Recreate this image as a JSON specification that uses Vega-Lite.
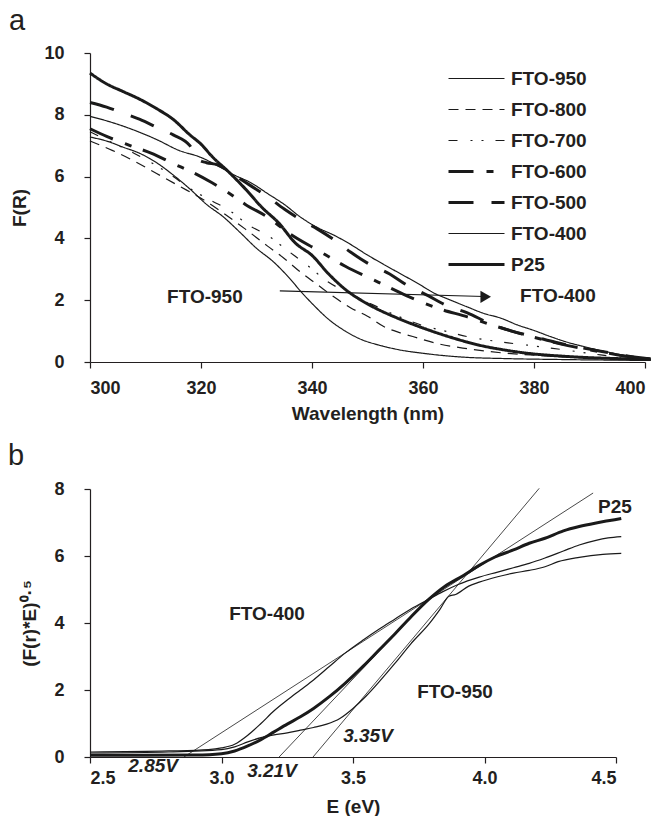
{
  "$schema": "https://vega.github.io/schema/vega-lite/v6.json",
  "background": "white",
  "padding": {"left": 8, "top": 7, "right": 0, "bottom": 0},
  "spacing": 19,
  "config": {
    "view": {"stroke": null},
    "font": "Liberation Sans",
    "axis": {
      "grid": false,
      "labelFont": "Liberation Sans", "labelFontWeight": "bold", "labelFontSize": 18, "labelColor": "#231f20",
      "titleFont": "Liberation Sans", "titleFontWeight": "bold", "titleFontSize": 19, "titleColor": "#231f20",
      "domainColor": "#231f20", "tickColor": "#231f20", "domainWidth": 1.2, "tickWidth": 1.2, "tickSize": 6
    },
    "title": {"font": "Liberation Sans", "fontWeight": "normal", "fontSize": 29, "color": "#231f20"}
  },
  "vconcat": [
    {
      "width": 555, "height": 309,
      "title": {"text": "a", "anchor": "start", "frame": "group", "dx": -81, "offset": -15, "baseline": "alphabetic"},
      "layer": [
        {
          "data": {"values": [
            {"s":"P25","w":300,"f":9.35},{"s":"P25","w":303,"f":9.0},{"s":"P25","w":306,"f":8.75},{"s":"P25","w":309,"f":8.5},{"s":"P25","w":312,"f":8.2},{"s":"P25","w":315,"f":7.85},{"s":"P25","w":318,"f":7.35},{"s":"P25","w":320,"f":7.05},{"s":"P25","w":322,"f":6.65},{"s":"P25","w":325,"f":6.15},{"s":"P25","w":328,"f":5.6},{"s":"P25","w":331,"f":5.0},{"s":"P25","w":334,"f":4.5},{"s":"P25","w":337,"f":3.85},{"s":"P25","w":340,"f":3.45},{"s":"P25","w":343,"f":2.85},{"s":"P25","w":346,"f":2.35},{"s":"P25","w":350,"f":1.88},{"s":"P25","w":355,"f":1.45},{"s":"P25","w":360,"f":1.1},{"s":"P25","w":365,"f":0.8},{"s":"P25","w":370,"f":0.55},{"s":"P25","w":375,"f":0.38},{"s":"P25","w":380,"f":0.26},{"s":"P25","w":385,"f":0.19},{"s":"P25","w":390,"f":0.14},{"s":"P25","w":395,"f":0.11},{"s":"P25","w":401,"f":0.08},
            {"s":"FTO-400","w":300,"f":7.95},{"s":"FTO-400","w":304,"f":7.75},{"s":"FTO-400","w":308,"f":7.5},{"s":"FTO-400","w":312,"f":7.2},{"s":"FTO-400","w":316,"f":6.85},{"s":"FTO-400","w":320,"f":6.62},{"s":"FTO-400","w":323,"f":6.35},{"s":"FTO-400","w":326,"f":6.05},{"s":"FTO-400","w":329,"f":5.8},{"s":"FTO-400","w":332,"f":5.45},{"s":"FTO-400","w":335,"f":5.1},{"s":"FTO-400","w":338,"f":4.68},{"s":"FTO-400","w":341,"f":4.35},{"s":"FTO-400","w":344,"f":4.1},{"s":"FTO-400","w":347,"f":3.8},{"s":"FTO-400","w":350,"f":3.46},{"s":"FTO-400","w":353,"f":3.15},{"s":"FTO-400","w":356,"f":2.85},{"s":"FTO-400","w":359,"f":2.55},{"s":"FTO-400","w":362,"f":2.23},{"s":"FTO-400","w":365,"f":2.0},{"s":"FTO-400","w":368,"f":1.78},{"s":"FTO-400","w":371,"f":1.57},{"s":"FTO-400","w":374,"f":1.42},{"s":"FTO-400","w":377,"f":1.2},{"s":"FTO-400","w":380,"f":1.02},{"s":"FTO-400","w":383,"f":0.82},{"s":"FTO-400","w":386,"f":0.64},{"s":"FTO-400","w":389,"f":0.5},{"s":"FTO-400","w":392,"f":0.37},{"s":"FTO-400","w":395,"f":0.26},{"s":"FTO-400","w":398,"f":0.15},{"s":"FTO-400","w":401,"f":0.07},
            {"s":"FTO-500","w":300,"f":8.4},{"s":"FTO-500","w":303,"f":8.25},{"s":"FTO-500","w":306,"f":8.05},{"s":"FTO-500","w":309,"f":7.85},{"s":"FTO-500","w":312,"f":7.6},{"s":"FTO-500","w":315,"f":7.35},{"s":"FTO-500","w":318,"f":7.0},{"s":"FTO-500","w":319.5,"f":6.55},{"s":"FTO-500","w":321,"f":6.45},{"s":"FTO-500","w":323,"f":6.38},{"s":"FTO-500","w":326,"f":6.05},{"s":"FTO-500","w":329,"f":5.7},{"s":"FTO-500","w":332,"f":5.35},{"s":"FTO-500","w":335,"f":4.95},{"s":"FTO-500","w":338,"f":4.6},{"s":"FTO-500","w":341,"f":4.3},{"s":"FTO-500","w":344,"f":3.95},{"s":"FTO-500","w":347,"f":3.55},{"s":"FTO-500","w":350,"f":3.2},{"s":"FTO-500","w":354,"f":2.85},{"s":"FTO-500","w":357,"f":2.5},{"s":"FTO-500","w":361,"f":2.14},{"s":"FTO-500","w":364,"f":1.85},{"s":"FTO-500","w":368,"f":1.59},{"s":"FTO-500","w":372,"f":1.25},{"s":"FTO-500","w":376,"f":1.0},{"s":"FTO-500","w":380,"f":0.82},{"s":"FTO-500","w":384,"f":0.63},{"s":"FTO-500","w":388,"f":0.48},{"s":"FTO-500","w":392,"f":0.35},{"s":"FTO-500","w":396,"f":0.22},{"s":"FTO-500","w":401,"f":0.1},
            {"s":"FTO-600","w":300,"f":7.55},{"s":"FTO-600","w":303,"f":7.3},{"s":"FTO-600","w":307,"f":7.02},{"s":"FTO-600","w":311,"f":6.76},{"s":"FTO-600","w":315,"f":6.42},{"s":"FTO-600","w":318.7,"f":6.12},{"s":"FTO-600","w":322,"f":5.8},{"s":"FTO-600","w":325,"f":5.47},{"s":"FTO-600","w":328,"f":5.1},{"s":"FTO-600","w":332,"f":4.69},{"s":"FTO-600","w":336,"f":4.15},{"s":"FTO-600","w":341,"f":3.62},{"s":"FTO-600","w":346,"f":3.1},{"s":"FTO-600","w":352,"f":2.58},{"s":"FTO-600","w":357,"f":2.15},{"s":"FTO-600","w":363,"f":1.72},{"s":"FTO-600","w":368,"f":1.46},{"s":"FTO-600","w":372,"f":1.22},{"s":"FTO-600","w":376,"f":1.0},{"s":"FTO-600","w":380,"f":0.8},{"s":"FTO-600","w":384,"f":0.62},{"s":"FTO-600","w":388,"f":0.46},{"s":"FTO-600","w":392,"f":0.33},{"s":"FTO-600","w":396,"f":0.2},{"s":"FTO-600","w":401,"f":0.1},
            {"s":"FTO-700","w":300,"f":7.45},{"s":"FTO-700","w":304,"f":7.1},{"s":"FTO-700","w":308,"f":6.75},{"s":"FTO-700","w":312,"f":6.35},{"s":"FTO-700","w":315,"f":6.0},{"s":"FTO-700","w":318,"f":5.62},{"s":"FTO-700","w":321,"f":5.3},{"s":"FTO-700","w":325,"f":4.92},{"s":"FTO-700","w":328.6,"f":4.43},{"s":"FTO-700","w":332,"f":4.1},{"s":"FTO-700","w":335.5,"f":3.62},{"s":"FTO-700","w":339,"f":3.15},{"s":"FTO-700","w":343,"f":2.58},{"s":"FTO-700","w":347,"f":2.2},{"s":"FTO-700","w":351,"f":1.85},{"s":"FTO-700","w":355,"f":1.52},{"s":"FTO-700","w":360,"f":1.18},{"s":"FTO-700","w":364,"f":1.0},{"s":"FTO-700","w":368,"f":0.82},{"s":"FTO-700","w":374,"f":0.65},{"s":"FTO-700","w":380,"f":0.52},{"s":"FTO-700","w":386,"f":0.38},{"s":"FTO-700","w":392,"f":0.23},{"s":"FTO-700","w":396,"f":0.15},{"s":"FTO-700","w":401,"f":0.08},
            {"s":"FTO-800","w":300,"f":7.15},{"s":"FTO-800","w":304,"f":6.85},{"s":"FTO-800","w":308,"f":6.5},{"s":"FTO-800","w":312,"f":6.1},{"s":"FTO-800","w":316,"f":5.7},{"s":"FTO-800","w":320,"f":5.3},{"s":"FTO-800","w":324,"f":4.82},{"s":"FTO-800","w":328,"f":4.3},{"s":"FTO-800","w":332,"f":3.75},{"s":"FTO-800","w":335,"f":3.35},{"s":"FTO-800","w":338,"f":2.9},{"s":"FTO-800","w":341,"f":2.5},{"s":"FTO-800","w":344,"f":2.1},{"s":"FTO-800","w":347,"f":1.75},{"s":"FTO-800","w":350,"f":1.48},{"s":"FTO-800","w":353,"f":1.14},{"s":"FTO-800","w":356,"f":0.94},{"s":"FTO-800","w":359,"f":0.78},{"s":"FTO-800","w":362.5,"f":0.6},{"s":"FTO-800","w":368,"f":0.43},{"s":"FTO-800","w":374,"f":0.3},{"s":"FTO-800","w":380,"f":0.22},{"s":"FTO-800","w":386,"f":0.16},{"s":"FTO-800","w":392,"f":0.11},{"s":"FTO-800","w":401,"f":0.07},
            {"s":"FTO-950","w":300,"f":7.28},{"s":"FTO-950","w":303,"f":7.15},{"s":"FTO-950","w":306,"f":6.95},{"s":"FTO-950","w":309,"f":6.75},{"s":"FTO-950","w":312,"f":6.45},{"s":"FTO-950","w":315,"f":6.05},{"s":"FTO-950","w":318,"f":5.6},{"s":"FTO-950","w":321,"f":5.1},{"s":"FTO-950","w":324,"f":4.7},{"s":"FTO-950","w":327,"f":4.2},{"s":"FTO-950","w":330,"f":3.68},{"s":"FTO-950","w":333,"f":3.25},{"s":"FTO-950","w":336,"f":2.7},{"s":"FTO-950","w":338,"f":2.28},{"s":"FTO-950","w":340.3,"f":1.84},{"s":"FTO-950","w":343,"f":1.38},{"s":"FTO-950","w":346,"f":1.0},{"s":"FTO-950","w":349,"f":0.72},{"s":"FTO-950","w":352,"f":0.55},{"s":"FTO-950","w":355,"f":0.42},{"s":"FTO-950","w":361,"f":0.26},{"s":"FTO-950","w":367,"f":0.16},{"s":"FTO-950","w":375,"f":0.11},{"s":"FTO-950","w":385,"f":0.08},{"s":"FTO-950","w":401,"f":0.05}
          ]},
          "mark": {"type": "line", "color": "#1a1a1a", "interpolate": "monotone", "strokeCap": "butt", "clip": false},
          "encoding": {
            "x": {"field": "w", "type": "quantitative", "scale": {"domain": [300, 400], "nice": false, "zero": false},
                  "axis": {"values": [300, 320, 340, 360, 380, 400], "title": "Wavelength (nm)", "labelPadding": 11, "titlePadding": 7}},
            "y": {"field": "f", "type": "quantitative", "scale": {"domain": [0, 10], "nice": false},
                  "axis": {"values": [0, 2, 4, 6, 8, 10], "title": "F(R)", "labelPadding": 20, "titlePadding": 14}},
            "strokeDash": {"field": "s", "type": "nominal",
              "scale": {"domain": ["FTO-950", "FTO-800", "FTO-700", "FTO-600", "FTO-500", "FTO-400", "P25"],
                        "range": [[1, 0], [10, 7], [9, 13, 2, 9, 2, 12], [25, 13, 7, 12], [25, 18], [1, 0], [1, 0]]},
              "legend": {"title": null, "orient": "none", "legendX": 377, "legendY": 16, "padding": 0,
                         "symbolType": "M-2.8,0L2.8,0", "symbolSize": 400, "symbolStrokeColor": "#1a1a1a",
                         "labelFont": "Liberation Sans", "labelFontWeight": "bold", "labelFontSize": 19, "labelColor": "#231f20",
                         "labelOffset": 25, "rowPadding": 11,
                         "encode": {"symbols": {"update": {"strokeWidth": {"signal": "indexof(['FTO-600','FTO-500','P25'], datum.value) >= 0 ? 3 : 1.2"}}}}}},
            "strokeWidth": {"condition": {"test": "indexof(['FTO-600','FTO-500','P25'], datum.s) >= 0", "value": 3}, "value": 1.2}
          }
        },
        {
          "data": {"values": [{"w": 334.2, "f": 2.3}, {"w": 371, "f": 2.12}]},
          "mark": {"type": "line", "color": "#1a1a1a", "strokeWidth": 1.2},
          "encoding": {"x": {"field": "w", "type": "quantitative"}, "y": {"field": "f", "type": "quantitative"}}
        },
        {
          "data": {"values": [{"w": 371.3, "f": 2.11}]},
          "mark": {"type": "point", "shape": "triangle-right", "filled": true, "color": "#1a1a1a", "size": 150, "opacity": 1},
          "encoding": {"x": {"field": "w", "type": "quantitative"}, "y": {"field": "f", "type": "quantitative"}}
        },
        {
          "data": {"values": [{"label": "FTO-950", "w": 320.7, "f": 2.1}, {"label": "FTO-400", "w": 384.3, "f": 2.14}]},
          "mark": {"type": "text", "font": "Liberation Sans", "fontWeight": "bold", "fontSize": 19, "color": "#231f20", "align": "center", "baseline": "middle"},
          "encoding": {"x": {"field": "w", "type": "quantitative"}, "y": {"field": "f", "type": "quantitative"}, "text": {"field": "label"}}
        }
      ]
    },
    {
      "width": 526, "height": 268,
      "title": {"text": "b", "anchor": "start", "frame": "group", "dx": -82, "offset": -14, "baseline": "alphabetic"},
      "layer": [
        {
          "data": {"values": [
            {"s":"P25","e":2.5,"v":0.05},{"s":"P25","e":2.7,"v":0.05},{"s":"P25","e":2.9,"v":0.06},{"s":"P25","e":3.0,"v":0.1},{"s":"P25","e":3.05,"v":0.18},{"s":"P25","e":3.1,"v":0.33},{"s":"P25","e":3.15,"v":0.52},{"s":"P25","e":3.2,"v":0.75},{"s":"P25","e":3.25,"v":0.98},{"s":"P25","e":3.3,"v":1.2},{"s":"P25","e":3.35,"v":1.45},{"s":"P25","e":3.41,"v":1.8},{"s":"P25","e":3.47,"v":2.2},{"s":"P25","e":3.54,"v":2.72},{"s":"P25","e":3.6,"v":3.2},{"s":"P25","e":3.66,"v":3.68},{"s":"P25","e":3.72,"v":4.18},{"s":"P25","e":3.79,"v":4.72},{"s":"P25","e":3.85,"v":5.1},{"s":"P25","e":3.92,"v":5.42},{"s":"P25","e":3.98,"v":5.72},{"s":"P25","e":4.04,"v":5.97},{"s":"P25","e":4.11,"v":6.18},{"s":"P25","e":4.17,"v":6.38},{"s":"P25","e":4.23,"v":6.53},{"s":"P25","e":4.3,"v":6.75},{"s":"P25","e":4.36,"v":6.88},{"s":"P25","e":4.42,"v":6.98},{"s":"P25","e":4.47,"v":7.05},{"s":"P25","e":4.52,"v":7.12},
            {"s":"FTO-400","e":2.5,"v":0.15},{"s":"FTO-400","e":2.8,"v":0.18},{"s":"FTO-400","e":2.95,"v":0.22},{"s":"FTO-400","e":3.0,"v":0.27},{"s":"FTO-400","e":3.05,"v":0.38},{"s":"FTO-400","e":3.1,"v":0.65},{"s":"FTO-400","e":3.15,"v":1.0},{"s":"FTO-400","e":3.2,"v":1.38},{"s":"FTO-400","e":3.25,"v":1.7},{"s":"FTO-400","e":3.3,"v":2.0},{"s":"FTO-400","e":3.35,"v":2.3},{"s":"FTO-400","e":3.41,"v":2.7},{"s":"FTO-400","e":3.47,"v":3.1},{"s":"FTO-400","e":3.54,"v":3.5},{"s":"FTO-400","e":3.6,"v":3.82},{"s":"FTO-400","e":3.66,"v":4.12},{"s":"FTO-400","e":3.72,"v":4.42},{"s":"FTO-400","e":3.79,"v":4.72},{"s":"FTO-400","e":3.84,"v":4.93},{"s":"FTO-400","e":3.9,"v":5.15},{"s":"FTO-400","e":3.98,"v":5.37},{"s":"FTO-400","e":4.05,"v":5.52},{"s":"FTO-400","e":4.11,"v":5.65},{"s":"FTO-400","e":4.17,"v":5.78},{"s":"FTO-400","e":4.23,"v":5.94},{"s":"FTO-400","e":4.3,"v":6.15},{"s":"FTO-400","e":4.36,"v":6.33},{"s":"FTO-400","e":4.42,"v":6.46},{"s":"FTO-400","e":4.47,"v":6.54},{"s":"FTO-400","e":4.52,"v":6.58},
            {"s":"FTO-950","e":2.5,"v":0.12},{"s":"FTO-950","e":2.8,"v":0.15},{"s":"FTO-950","e":3.0,"v":0.22},{"s":"FTO-950","e":3.05,"v":0.3},{"s":"FTO-950","e":3.1,"v":0.45},{"s":"FTO-950","e":3.15,"v":0.58},{"s":"FTO-950","e":3.2,"v":0.66},{"s":"FTO-950","e":3.25,"v":0.72},{"s":"FTO-950","e":3.3,"v":0.8},{"s":"FTO-950","e":3.35,"v":0.88},{"s":"FTO-950","e":3.4,"v":0.98},{"s":"FTO-950","e":3.45,"v":1.15},{"s":"FTO-950","e":3.5,"v":1.45},{"s":"FTO-950","e":3.55,"v":1.82},{"s":"FTO-950","e":3.6,"v":2.25},{"s":"FTO-950","e":3.66,"v":2.8},{"s":"FTO-950","e":3.72,"v":3.38},{"s":"FTO-950","e":3.79,"v":3.98},{"s":"FTO-950","e":3.83,"v":4.4},{"s":"FTO-950","e":3.865,"v":4.8},{"s":"FTO-950","e":3.89,"v":4.85},{"s":"FTO-950","e":3.94,"v":5.1},{"s":"FTO-950","e":3.98,"v":5.22},{"s":"FTO-950","e":4.05,"v":5.38},{"s":"FTO-950","e":4.11,"v":5.49},{"s":"FTO-950","e":4.17,"v":5.57},{"s":"FTO-950","e":4.23,"v":5.68},{"s":"FTO-950","e":4.28,"v":5.83},{"s":"FTO-950","e":4.36,"v":5.96},{"s":"FTO-950","e":4.45,"v":6.05},{"s":"FTO-950","e":4.52,"v":6.08}
          ]},
          "mark": {"type": "line", "color": "#1a1a1a", "interpolate": "monotone", "clip": false},
          "encoding": {
            "x": {"field": "e", "type": "quantitative", "scale": {"domain": [2.5, 4.5], "nice": false, "zero": false},
                  "axis": {"values": [2.5, 3.0, 3.5, 4.0, 4.5], "format": ".1f", "title": "E (eV)", "labelPadding": 6, "titlePadding": 10}},
            "y": {"field": "v", "type": "quantitative", "scale": {"domain": [0, 8], "nice": false},
                  "axis": {"values": [0, 2, 4, 6, 8], "title": "(F(r)*E)⁰·⁵", "labelPadding": 20, "titlePadding": 14}},
            "detail": {"field": "s", "type": "nominal"},
            "strokeWidth": {"condition": {"test": "datum.s === 'P25'", "value": 3}, "value": 1.2}
          }
        },
        {
          "data": {"values": [
            {"t": "2.85", "e": 2.857, "v": 0}, {"t": "2.85", "e": 4.413, "v": 7.88},
            {"t": "3.21", "e": 3.219, "v": 0}, {"t": "3.21", "e": 3.8, "v": 4.82},
            {"t": "3.35", "e": 3.348, "v": 0}, {"t": "3.35", "e": 4.208, "v": 8.02}
          ]},
          "mark": {"type": "line", "color": "#1a1a1a", "strokeWidth": 0.8},
          "encoding": {"x": {"field": "e", "type": "quantitative"}, "y": {"field": "v", "type": "quantitative"}, "detail": {"field": "t", "type": "nominal"}}
        },
        {
          "data": {"values": [{"label": "FTO-400", "e": 3.173, "v": 4.27}, {"label": "FTO-950", "e": 3.888, "v": 1.94}, {"label": "P25", "e": 4.496, "v": 7.46}]},
          "mark": {"type": "text", "font": "Liberation Sans", "fontWeight": "bold", "fontSize": 19, "color": "#231f20", "align": "center", "baseline": "middle"},
          "encoding": {"x": {"field": "e", "type": "quantitative"}, "y": {"field": "v", "type": "quantitative"}, "text": {"field": "label"}}
        },
        {
          "data": {"values": [{"label": "2.85V", "e": 2.74, "v": -0.27}, {"label": "3.21V", "e": 3.192, "v": -0.42}, {"label": "3.35V", "e": 3.557, "v": 0.63}]},
          "mark": {"type": "text", "font": "Liberation Sans", "fontWeight": "bold", "fontStyle": "italic", "fontSize": 19, "color": "#231f20", "align": "center", "baseline": "middle"},
          "encoding": {"x": {"field": "e", "type": "quantitative"}, "y": {"field": "v", "type": "quantitative"}, "text": {"field": "label"}}
        }
      ]
    }
  ]
}
